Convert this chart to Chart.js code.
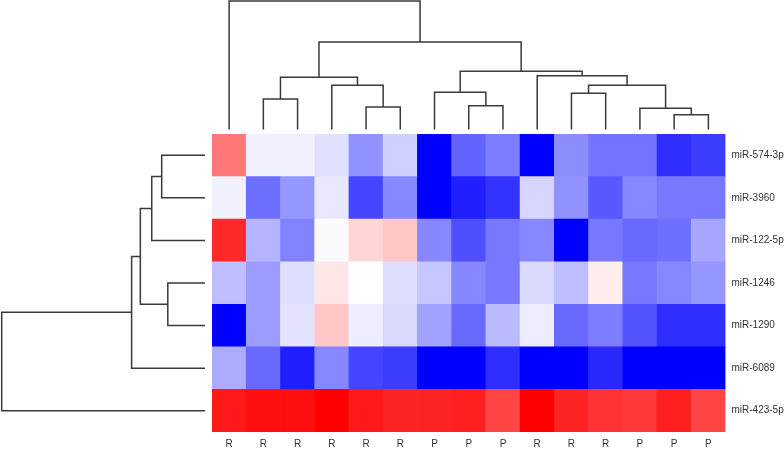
<!DOCTYPE html>
<html>
<head>
<meta charset="utf-8">
<script src="https://cdn.jsdelivr.net/npm/chart.js@4/dist/chart.umd.min.js"></script>
<style>
  body { margin: 0; background: #fff; }
  #wrap { position: relative; width: 784px; height: 449px; }
  #wrap canvas { position: absolute; left: 0; top: 0; }
</style>
</head>
<body>
<div id="wrap">
  <canvas id="heat" width="784" height="449"></canvas>
  <canvas id="topTree" width="784" height="449"></canvas>
  <canvas id="leftTree" width="784" height="449"></canvas>
</div>
<script>
// column labels (samples, in dendrogram order)
const colLabels = ['R','R','R','R','R','R','P','P','P','R','R','R','P','P','P'];
// row labels (miRNAs, top to bottom)
const rowLabels = ['miR-574-3p','miR-3960','miR-122-5p','miR-1246','miR-1290','miR-6089','miR-423-5p'];

// scaled expression, -1 = blue, 0 = white, +1 = red
const row574 =  [ 0.53,-0.06,-0.06,-0.12,-0.43,-0.18,-1.00,-0.61,-0.51,-1.00,-0.45,-0.55,-0.55,-0.82,-0.76];
const row3960 = [-0.06,-0.57,-0.41,-0.09,-0.73,-0.47,-1.00,-0.88,-0.80,-0.16,-0.43,-0.65,-0.47,-0.53,-0.53];
const row122 =  [ 0.84,-0.29,-0.49,-0.02, 0.16, 0.22,-0.47,-0.69,-0.53,-0.47,-1.00,-0.53,-0.59,-0.57,-0.35];
const row1246 = [-0.25,-0.39,-0.13, 0.10, 0.00,-0.13,-0.22,-0.47,-0.53,-0.15,-0.25, 0.07,-0.53,-0.47,-0.41];
const row1290 = [-1.00,-0.39,-0.11, 0.22,-0.07,-0.15,-0.37,-0.59,-0.27,-0.07,-0.59,-0.51,-0.67,-0.82,-0.82];
const row6089 = [-0.33,-0.59,-0.88,-0.47,-0.73,-0.76,-1.00,-1.00,-0.82,-1.00,-1.00,-0.84,-1.00,-1.00,-1.00];
const row423 =  [ 0.90, 0.94, 0.94, 1.00, 0.90, 0.86, 0.86, 0.88, 0.73, 1.00, 0.86, 0.80, 0.78, 0.88, 0.73];
const rows = [row574, row3960, row122, row1246, row1290, row6089, row423];

// column clustering (hclust style: negative = leaf position, positive = earlier merge)
const colMergeA = [-14, -13, -5, -8, -2, -11, -7, -4,  6, -10,  5,  7, 11, -1];
const colMergeB = [-15,   1, -6, -9, -3, -12,  4,  3,  2,   9,  8, 10, 12, 13];
const colHeights = [1.15, 1.65, 1.75, 1.85, 2.37, 2.82, 2.89, 3.44, 3.44, 4.19, 4.06, 4.53, 6.81, 10.0];

// row clustering
const rowMergeA = [-4, -1, 2, 3, 4, 5];
const rowMergeB = [-5, -2, -3, 1, -6, -7];
const rowHeights = [1.83, 2.13, 2.62, 3.18, 3.61, 10.0];

const textFont = { family: "'Liberation Sans', Arial, sans-serif", size: 10 };
const lineColor = '#3a3a3a';

function cellColor(v) {
  const t = Math.min(1, Math.abs(v));
  const c = Math.round(255 * (1 - t));
  return v < 0 ? `rgb(${c},${c},255)` : `rgb(255,${c},${c})`;
}

// heatmap: one stacked dataset per row, bottom row first
const heatDatasets = rows.slice().reverse().map(r => ({
  data: r.map(() => 1),
  backgroundColor: r.map(cellColor),
  borderWidth: 0,
  barPercentage: 1,
  categoryPercentage: 1
}));

new Chart(document.getElementById('heat'), {
  type: 'bar',
  data: { labels: colLabels, datasets: heatDatasets },
  options: {
    responsive: false,
    animation: false,
    layout: { padding: { left: 212, top: 134, right: 0, bottom: 0 } },
    plugins: { legend: { display: false }, tooltip: { enabled: false } },
    scales: {
      x: {
        stacked: true,
        grid: { display: false, drawTicks: false },
        border: { display: false },
        ticks: { color: '#333', font: textFont, padding: 6, autoSkip: false, maxRotation: 0 },
        afterFit: s => { s.height = 17; }
      },
      y: {
        stacked: true,
        position: 'right',
        min: 0, max: rows.length,
        grid: { display: false, drawTicks: false },
        border: { display: false },
        afterBuildTicks: s => { s.ticks = rowLabels.map((_, i) => ({ value: i + 0.5 })); },
        ticks: {
          color: '#333', font: textFont, padding: 6,
          callback: v => rowLabels[rows.length - 1 - Math.floor(v)]
        },
        afterFit: s => { s.width = 58.5; }
      }
    }
  }
});

// turn merge lists into U-shaped links
function buildLinks(mergeA, mergeB, heights) {
  const pos = [];
  const links = [];
  mergeA.forEach((a, i) => {
    const b = mergeB[i];
    const pa = a < 0 ? -a - 0.5 : pos[a - 1];
    const ha = a < 0 ? 0 : heights[a - 1];
    const pb = b < 0 ? -b - 0.5 : pos[b - 1];
    const hb = b < 0 ? 0 : heights[b - 1];
    pos[i] = (pa + pb) / 2;
    links.push([[pa, ha], [pa, heights[i]], [pb, heights[i]], [pb, hb]]);
  });
  return links;
}

function linkDataset(pts) {
  return {
    data: pts,
    showLine: true,
    pointRadius: 0,
    borderColor: lineColor,
    borderWidth: 1.5,
    clip: false
  };
}

const hidden = { display: false };

new Chart(document.getElementById('topTree'), {
  type: 'scatter',
  data: {
    datasets: buildLinks(colMergeA, colMergeB, colHeights)
      .map(l => linkDataset(l.map(p => ({ x: p[0], y: p[1] }))))
  },
  options: {
    responsive: false,
    animation: false,
    layout: { padding: { left: 212, right: 58.5, top: 1, bottom: 319.5 } },
    plugins: { legend: hidden, tooltip: { enabled: false } },
    scales: {
      x: { type: 'linear', min: 0, max: colLabels.length, display: false },
      y: { type: 'linear', min: 0, max: 10, display: false }
    }
  }
});

new Chart(document.getElementById('leftTree'), {
  type: 'scatter',
  data: {
    datasets: buildLinks(rowMergeA, rowMergeB, rowHeights)
      .map(l => linkDataset(l.map(p => ({ x: p[1], y: p[0] }))))
  },
  options: {
    responsive: false,
    animation: false,
    layout: { padding: { left: 1.7, right: 579, top: 134, bottom: 17 } },
    plugins: { legend: hidden, tooltip: { enabled: false } },
    scales: {
      x: { type: 'linear', reverse: true, min: 0, max: 10, display: false },
      y: { type: 'linear', reverse: true, min: 0, max: rows.length, display: false }
    }
  }
});
</script>
</body>
</html>
